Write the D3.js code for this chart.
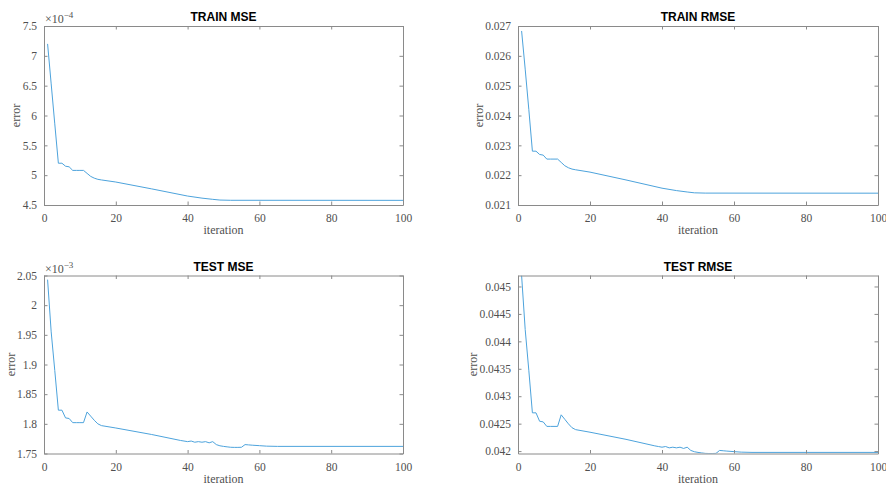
<!DOCTYPE html>
<html>
<head>
<meta charset="utf-8">
<script src="https://cdn.jsdelivr.net/npm/d3@7"></script>
<style>
  body { margin: 0; background: #fff; }
  .tick text { font-family: "Liberation Serif", serif; font-size: 11.5px; fill: #505050; }
</style>
</head>
<body>
<div id="chart"></div>
<script>
// iterations where a value was read (straight runs in between)
var trainIter = [1,2,3,4,5,6,7,8,9,10,11,12,13,14,15,16,20,30,40,44,47,49,52,100];
var trainMse = [7.20e-4,6.53e-4,5.86e-4,5.20e-4,5.20e-4,5.15e-4,5.14e-4,5.08e-4,5.08e-4,5.08e-4,5.08e-4,
    5.03e-4,4.98e-4,4.95e-4,4.93e-4,4.92e-4,4.885e-4,4.77e-4,4.65e-4,4.615e-4,4.595e-4,4.583e-4,4.579e-4,4.578e-4];
var trainRmse = [0.026833,0.025554,0.024207,0.022804,0.022804,0.022694,0.022672,0.022539,0.022539,0.022539,0.022539,
    0.022428,0.022316,0.022249,0.022204,0.022181,0.022102,0.021840,0.021564,0.021483,0.021436,0.021408,0.021399,0.021396];

var testIter = [1,2,3,4,5,6,7,8,9,10,11,12,13,14,15,16,20,30,38,39,40,41,42,43,44,45,46,47,48,49,50,
    51,52,53,54,55,56,57,58,60,62,65,100];
var testMse = [2.043e-3,1.955e-3,1.890e-3,1.823e-3,1.823e-3,1.810e-3,1.809e-3,1.802e-3,1.802e-3,1.802e-3,1.802e-3,
    1.820e-3,1.813e-3,1.806e-3,1.800e-3,1.797e-3,1.793e-3,1.782e-3,1.772e-3,1.771e-3,1.770e-3,1.771e-3,1.769e-3,
    1.770e-3,1.769e-3,1.770e-3,1.768e-3,1.770e-3,1.765e-3,1.763e-3,1.762e-3,1.7612e-3,1.7605e-3,1.7603e-3,1.7603e-3,
    1.7605e-3,1.7650e-3,1.7645e-3,1.7640e-3,1.7632e-3,1.7624e-3,1.7620e-3,1.7620e-3];
var testRmse = [0.045200,0.044215,0.043474,0.042697,0.042697,0.042544,0.042532,0.042450,0.042450,0.042450,0.042450,
    0.042661,0.042579,0.042497,0.042426,0.042391,0.042344,0.042214,0.042095,0.042083,0.042071,0.042083,0.042059,
    0.042071,0.042059,0.042071,0.042048,0.042071,0.042012,0.041988,0.041976,0.041967,0.041958,0.041956,0.041956,
    0.041958,0.042012,0.042006,0.042000,0.041990,0.041981,0.041976,0.041976];

var titles = ["TRAIN MSE", "TRAIN RMSE", "TEST MSE", "TEST RMSE"];
var xTicks = [0, 20, 40, 60, 80, 100];
var trainMseTicks = [4.5e-4,5e-4,5.5e-4,6e-4,6.5e-4,7e-4,7.5e-4];
var trainRmseTicks = [0.021,0.022,0.023,0.024,0.025,0.026,0.027];
var testMseTicks = [1.75e-3,1.8e-3,1.85e-3,1.9e-3,1.95e-3,2e-3,2.05e-3];
var testRmseTicks = [0.042,0.0425,0.043,0.0435,0.044,0.0445,0.045];

var W = 886, H = 487;
var svg = d3.select("#chart").append("svg").attr("width", W).attr("height", H);

var panels = [
    {title: titles[0], x0: 44, x1: 403, y0: 26, y1: 205, iter: trainIter, vals: trainMse,
     dom: [4.5e-4, 7.5e-4], ticks: trainMseTicks, exp: -4, labOff: 28},
    {title: titles[1], x0: 518, x1: 878, y0: 26, y1: 205, iter: trainIter, vals: trainRmse,
     dom: [0.021, 0.027], ticks: trainRmseTicks, exp: null, labOff: 39},
    {title: titles[2], x0: 44, x1: 403, y0: 275.5, y1: 453.5, iter: testIter, vals: testMse,
     dom: [1.75e-3, 2.05e-3], ticks: testMseTicks, exp: -3, labOff: 33},
    {title: titles[3], x0: 518, x1: 878, y0: 275.5, y1: 453.5, iter: testIter, vals: testRmse,
     dom: [0.041956, 0.0452], ticks: testRmseTicks, exp: null, labOff: 45}
];

var axisCol = "#8a8a8a";

panels.forEach(function(p, i) {
    var x = d3.scaleLinear().domain([0, 100]).range([p.x0, p.x1]);
    var y = d3.scaleLinear().domain(p.dom).range([p.y1, p.y0]);
    var g = svg.append("g");

    var yfmt = function(d) {
        if (p.exp !== null) return String(+(d / Math.pow(10, p.exp)).toFixed(4));
        return String(+d.toFixed(5));
    };

    // clip for the line
    svg.append("clipPath").attr("id", "clip" + i)
        .append("rect").attr("x", p.x0).attr("y", p.y0)
        .attr("width", p.x1 - p.x0).attr("height", p.y1 - p.y0);

    var line = d3.line()
        .x(function(d) { return x(d[0]); })
        .y(function(d) { return y(d[1]); });

    var pts = p.iter.map(function(it, k) { return [it, p.vals[k]]; });

    g.append("path")
        .datum(pts)
        .attr("clip-path", "url(#clip" + i + ")")
        .attr("fill", "none")
        .attr("stroke", "#4da3dc")
        .attr("stroke-width", 1)
        .attr("d", line);

    // axes, matlab style: ticks inside, box all round
    var bottom = g.append("g").attr("transform", "translate(0," + p.y1 + ")")
        .call(d3.axisBottom(x).tickValues(xTicks).tickSizeInner(-3.5).tickSizeOuter(0).tickPadding(9));
    var top = g.append("g").attr("transform", "translate(0," + p.y0 + ")")
        .call(d3.axisTop(x).tickValues(xTicks).tickSizeInner(-3.5).tickSizeOuter(0).tickFormat(""));
    var left = g.append("g").attr("transform", "translate(" + p.x0 + ",0)")
        .call(d3.axisLeft(y).tickValues(p.ticks).tickSizeInner(-3.5).tickSizeOuter(0).tickPadding(7).tickFormat(yfmt));
    var right = g.append("g").attr("transform", "translate(" + p.x1 + ",0)")
        .call(d3.axisRight(y).tickValues(p.ticks).tickSizeInner(-3.5).tickSizeOuter(0).tickFormat(""));

    [bottom, top, left, right].forEach(function(a) {
        a.select(".domain").attr("stroke", axisCol);
        a.selectAll(".tick line").attr("stroke", axisCol);
    });

    // title
    g.append("text")
        .attr("x", (p.x0 + p.x1) / 2)
        .attr("y", p.y0 - 5)
        .attr("text-anchor", "middle")
        .style("font-family", "'Liberation Sans', Arial, sans-serif")
        .style("font-weight", "bold")
        .style("font-size", "12px")
        .attr("fill", "#000")
        .text(p.title);

    // x label
    g.append("text")
        .attr("x", (p.x0 + p.x1) / 2)
        .attr("y", p.y1 + 29)
        .attr("text-anchor", "middle")
        .style("font-family", "'Liberation Serif', serif")
        .style("font-size", "12px")
        .attr("fill", "#505050")
        .text("iteration");

    // y label
    g.append("text")
        .attr("transform", "translate(" + (p.x0 - p.labOff + 4) + "," + ((p.y0 + p.y1) / 2) + ") rotate(-90)")
        .attr("text-anchor", "middle")
        .style("font-family", "'Liberation Serif', serif")
        .style("font-size", "12px")
        .attr("fill", "#505050")
        .text("error");

    // exponent multiplier
    if (p.exp !== null) {
        var t = g.append("text")
            .attr("x", p.x0 + 1)
            .attr("y", p.y0 - 3)
            .style("font-family", "'Liberation Serif', serif")
            .style("font-size", "12px")
            .attr("fill", "#505050");
        t.append("tspan").text("\u00d710");
        t.append("tspan").attr("dy", -5).style("font-size", "9px").text("\u2212" + Math.abs(p.exp));
    }
});
</script>
</body>
</html>
